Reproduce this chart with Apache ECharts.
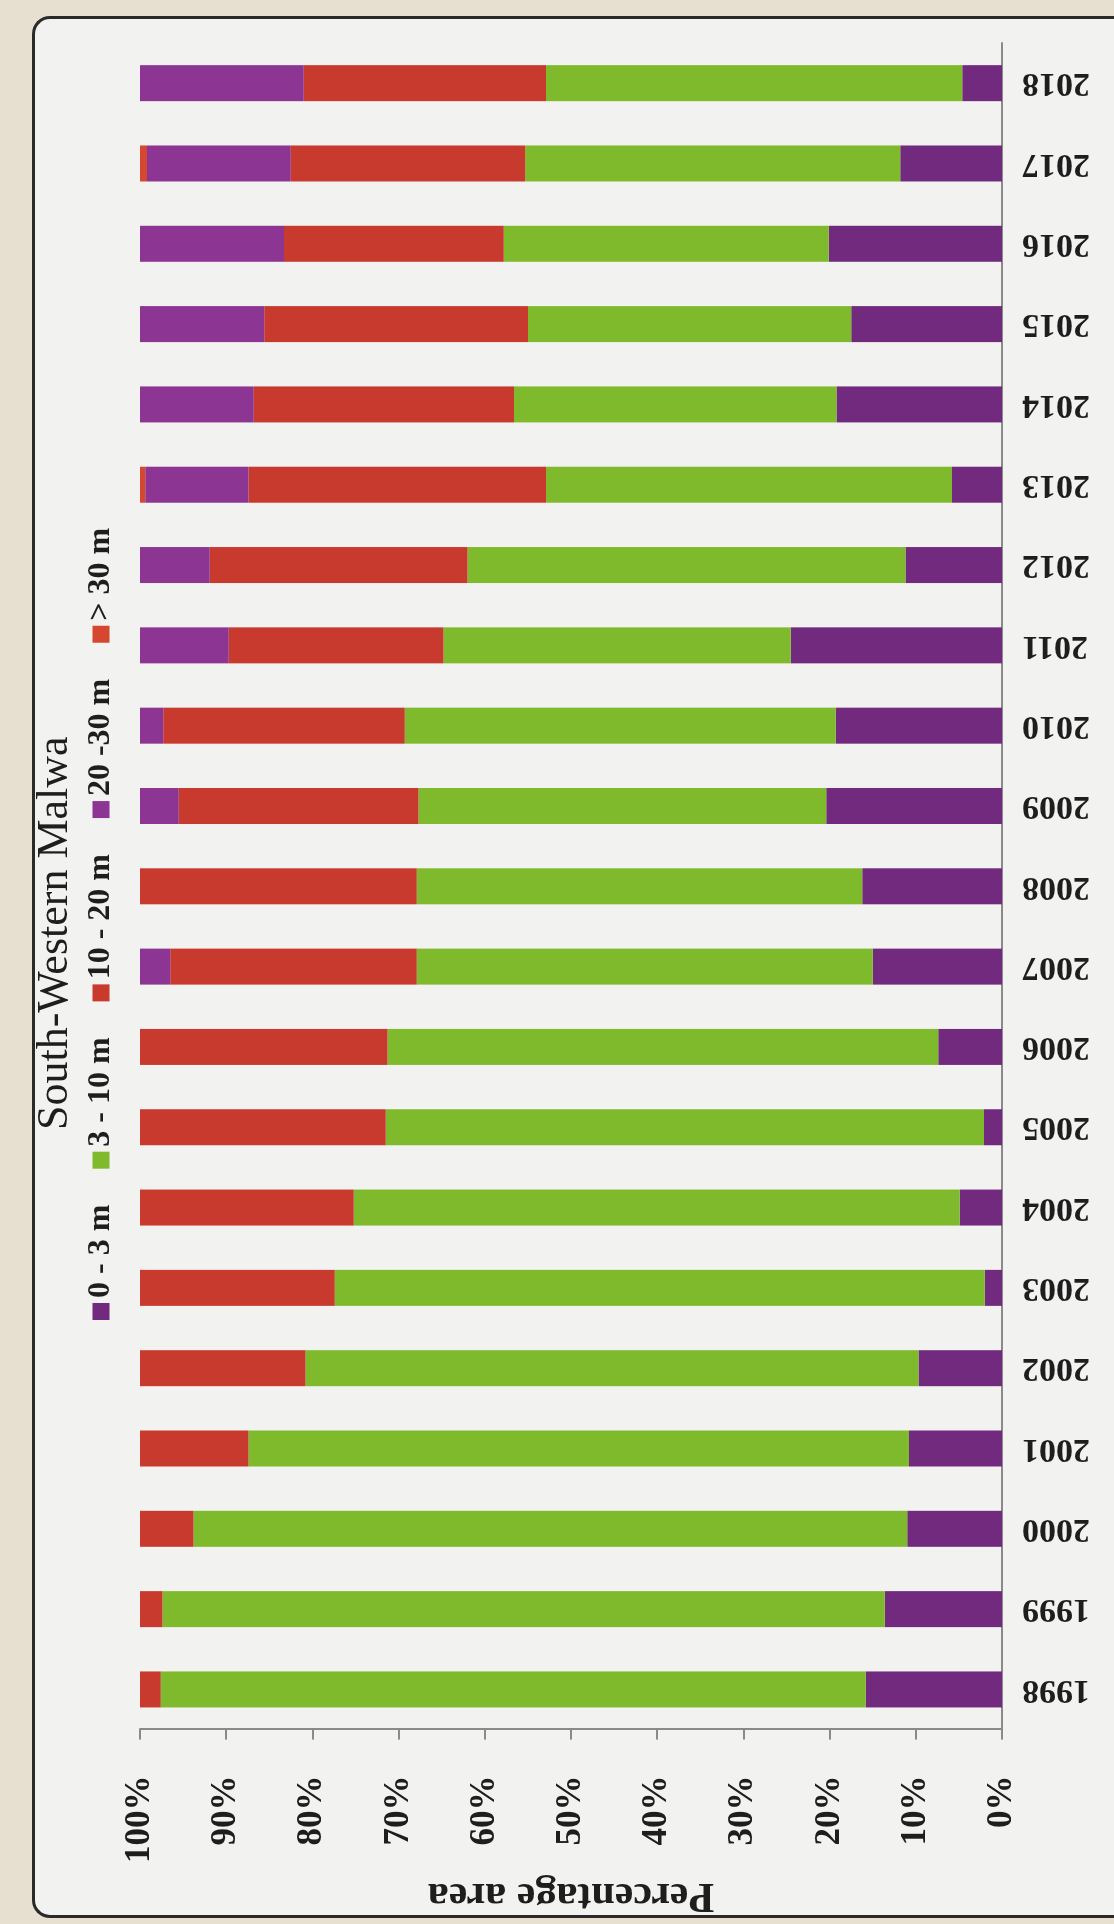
<!DOCTYPE html>
<html>
<head>
<meta charset="utf-8">
<title>South-Western Malwa</title>
<script src="https://cdn.jsdelivr.net/npm/echarts@6/dist/echarts.min.js"></script>
<style>
  html, body { margin: 0; padding: 0; width: 1114px; height: 1924px; overflow: hidden; background: #e7e0d1; }
  #page {
    position: absolute; left: 32px; top: 16px; width: 1120px; height: 1896px;
    background: #f2f2f0; border-left: 3px solid #2a2a2a; border-top: 3px solid #2a2a2a; border-bottom: 3px solid #2a2a2a;
    border-top-left-radius: 18px; border-bottom-left-radius: 18px;
  }
  /* the chart is laid out as a column chart and turned a quarter-turn counter-clockwise on the page */
  #chart {
    position: absolute; left: 0; top: 0; width: 1924px; height: 1114px;
    transform-origin: 0 0; transform: translate(0px, 1924px) rotate(-90deg);
  }
</style>
</head>
<body>
<div id="page"></div>
<div id="chart"></div>
<script>
// Share of area (%) by depth-to-water class, South-Western Malwa
const years = ['1998','1999','2000','2001','2002','2003','2004','2005','2006','2007','2008',
               '2009','2010','2011','2012','2013','2014','2015','2016','2017','2018'];
const d0to3   = [15.8, 13.6, 11.0, 10.8,  9.7,  2.0,  4.9,  2.1,  7.4, 15.0, 16.2, 20.4, 19.3, 24.5, 11.2,  5.8, 19.2, 17.5, 20.1, 11.8,  4.6];
const d3to10  = [81.8, 83.8, 82.8, 76.6, 71.1, 75.4, 70.3, 69.4, 63.9, 52.9, 51.7, 47.3, 50.0, 40.3, 50.8, 47.1, 37.4, 37.5, 37.7, 43.5, 48.3];
const d10to20 = [ 2.4,  2.6,  6.2, 12.6, 19.2, 22.6, 24.8, 28.5, 28.7, 28.6, 32.1, 27.8, 28.0, 24.9, 29.9, 34.5, 30.2, 30.6, 25.5, 27.2, 28.1];
const d20to30 = [ 0,    0,    0,    0,    0,    0,    0,    0,    0,    3.5,  0,    4.5,  2.7, 10.3,  8.1, 12.0, 13.2, 14.4, 16.7, 16.7, 19.0];
const dOver30 = [ 0,    0,    0,    0,    0,    0,    0,    0,    0,    0,    0,    0,    0,    0,    0,    0.6,  0,    0,    0,    0.8,  0];
const pctTicks = { min: 0, max: 100, step: 10 };

const classNames = ['0 - 3 m', '3 - 10 m', '10 - 20 m', '20 -30 m', '> 30 m'];
const classData = [d0to3, d3to10, d10to20, d20to30, dOver30];
const classColors = ['#712a7e', '#7fba2c', '#c83a2e', '#8d3592', '#d6472f'];

const serif = '"Liberation Serif", "DejaVu Serif", serif';
const chart = echarts.init(document.getElementById('chart'), null, { renderer: 'canvas' });

chart.setOption({
  backgroundColor: 'transparent',
  animation: false,
  title: {
    text: 'South-Western Malwa',
    left: 789, top: 28,
    textStyle: { fontFamily: serif, fontSize: 44, fontWeight: 'normal', color: '#1e1e1e' }
  },
  legend: {
    data: classNames,
    left: 599, top: 80,
    icon: 'rect', itemWidth: 17, itemHeight: 17, itemGap: 36,
    textStyle: { fontFamily: serif, fontSize: 32, fontWeight: 'bold', color: '#1e1e1e' }
  },
  grid: { left: 182, right: 43, top: 140, bottom: 112 },
  xAxis: {
    type: 'category',
    data: years,
    axisLine: { lineStyle: { color: '#8a8a8a', width: 2 } },
    axisTick: { length: 10, lineStyle: { color: '#8a8a8a', width: 2 } },
    axisLabel: { rotate: 90, margin: 20, fontFamily: serif, fontSize: 34, fontWeight: 'bold', color: '#1e1e1e' }
  },
  yAxis: {
    type: 'value',
    min: pctTicks.min, max: pctTicks.max, interval: pctTicks.step,
    name: 'Percentage area',
    nameLocation: 'middle', nameGap: 142,
    nameTextStyle: { fontFamily: serif, fontSize: 42, fontWeight: 'bold', color: '#1e1e1e' },
    axisLine: { show: true, lineStyle: { color: '#8a8a8a', width: 2 } },
    axisTick: { show: true, length: 10, lineStyle: { color: '#8a8a8a', width: 2 } },
    splitLine: { show: false },
    axisLabel: { formatter: '{value}%', margin: 46, fontFamily: serif, fontSize: 35, fontWeight: 'bold', color: '#1e1e1e' }
  },
  series: classNames.map((name, i) => ({
    name: name,
    type: 'bar',
    stack: 'area',
    barWidth: 36,
    data: classData[i],
    itemStyle: { color: classColors[i] }
  }))
});
</script>
</body>
</html>
